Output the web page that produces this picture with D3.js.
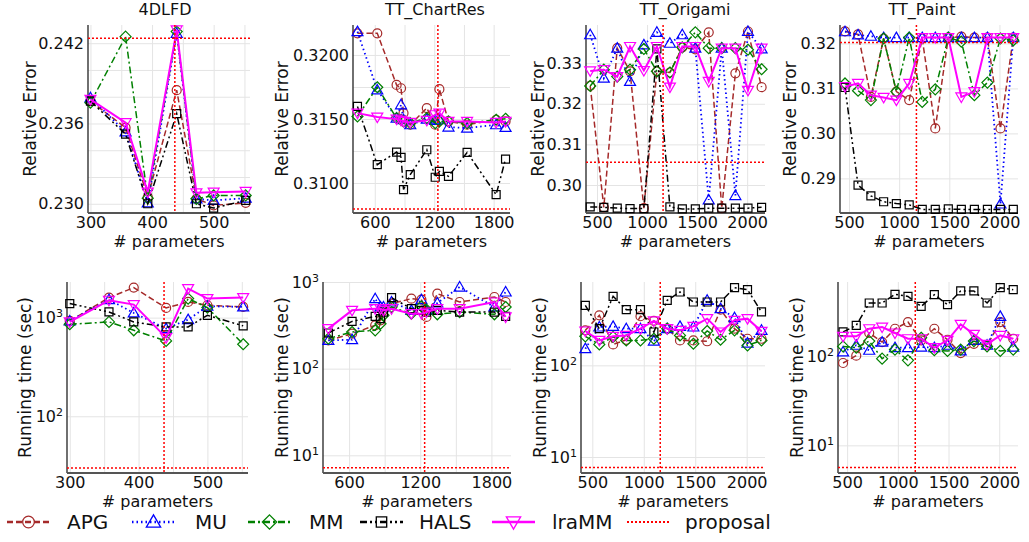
<!DOCTYPE html>
<html>
<head>
<meta charset="utf-8">
<script src="https://cdn.jsdelivr.net/npm/d3@7"></script>
<style>
body { margin: 0; background: #fff; }
text { font-family: "DejaVu Sans", sans-serif; }
</style>
</head>
<body>
<svg id="chart" width="1029" height="542"></svg>
<script>
// Data
var methods = ["APG", "MU", "MM", "HALS", "lraMM"];
var titles = ["4DLFD", "TT_ChartRes", "TT_Origami", "TT_Paint"];

// # parameters per dataset
var params4DLFD = [300, 357, 393, 440, 472, 500, 552];
var paramsChartRes = [425, 625, 820, 865, 890, 958, 1125, 1210, 1252, 1344, 1532, 1825, 1920];
var paramsOrigami = [432, 568, 702, 830, 968, 1098, 1228, 1352, 1482, 1616, 1746, 1882, 2008, 2144];
var paramsPaint = [460, 590, 718, 845, 972, 1100, 1230, 1360, 1490, 1620, 1750, 1880, 2010, 2138];

// relative error, rows: APG, MU, MM, HALS, lraMM
var err4DLFD = [
    [0.23767, 0.23569, 0.23050, 0.23849, 0.23037, 0.22988, 0.23007],
    [0.23792, 0.23537, 0.23007, 0.24274, 0.23037, 0.23025, 0.23042],
    [0.23755, 0.24249, 0.23042, 0.24287, 0.23037, 0.23062, 0.23062],
    [0.23767, 0.23520, 0.23000, 0.23673, 0.23000, 0.22968, 0.23025],
    [0.23780, 0.23606, 0.23087, 0.24299, 0.23082, 0.23087, 0.23092]];
var errChartRes = [
    [0.32169, 0.32169, 0.31766, 0.31740, 0.31546, 0.31455, 0.31585, 0.31455, 0.31733, 0.31481, 0.31455, 0.31494, 0.31481],
    [0.32182, 0.31727, 0.31507, 0.31611, 0.31494, 0.31455, 0.31499, 0.31489, 0.31494, 0.31437, 0.31429, 0.31455, 0.31434],
    [0.31520, 0.31748, 0.31507, 0.31494, 0.31481, 0.31468, 0.31507, 0.31468, 0.31481, 0.31481, 0.31468, 0.31494, 0.31502],
    [0.31598, 0.31143, 0.31242, 0.31200, 0.30949, 0.31065, 0.31260, 0.31045, 0.31091, 0.31052, 0.31239, 0.30910, 0.31187],
    [0.31546, 0.31515, 0.31499, 0.31489, 0.31481, 0.31473, 0.31489, 0.31533, 0.31546, 0.31481, 0.31481, 0.31473, 0.31481]];
var errOrigami = [
    [0.3244, 0.2945, 0.3337, 0.3280, 0.2943, 0.3280, 0.3277, 0.3339, 0.3334, 0.3376, 0.2943, 0.3275, 0.3378, 0.3241],
    [0.3370, 0.3263, 0.3337, 0.3255, 0.3345, 0.3376, 0.3349, 0.3370, 0.3337, 0.2963, 0.3337, 0.2974, 0.3378, 0.3335],
    [0.3244, 0.3284, 0.3267, 0.3284, 0.3335, 0.3280, 0.3277, 0.3339, 0.3376, 0.3337, 0.3337, 0.3337, 0.3333, 0.3285],
    [0.2946, 0.2945, 0.2943, 0.2942, 0.2942, 0.3335, 0.2946, 0.2941, 0.2941, 0.2943, 0.2943, 0.2943, 0.2943, 0.2945],
    [0.3281, 0.3284, 0.3267, 0.3341, 0.3282, 0.3341, 0.3241, 0.3341, 0.3341, 0.3255, 0.3337, 0.3337, 0.3233, 0.3337]];
var errPaint = [
    [0.3227, 0.3220, 0.3081, 0.3211, 0.3093, 0.3074, 0.3211, 0.3011, 0.3213, 0.3215, 0.3213, 0.3213, 0.3011, 0.3213],
    [0.3226, 0.3219, 0.3216, 0.3213, 0.3213, 0.3213, 0.3213, 0.3213, 0.3213, 0.3213, 0.3213, 0.3213, 0.2843, 0.3213],
    [0.3111, 0.3095, 0.3074, 0.3211, 0.3093, 0.3213, 0.3070, 0.3098, 0.3213, 0.3204, 0.3085, 0.3113, 0.3211, 0.3207],
    [0.3102, 0.2885, 0.2861, 0.2848, 0.2844, 0.2841, 0.2831, 0.2831, 0.2832, 0.2831, 0.2831, 0.2831, 0.2831, 0.2831],
    [0.3104, 0.3111, 0.3085, 0.3080, 0.3074, 0.3111, 0.3213, 0.3213, 0.3213, 0.3081, 0.3093, 0.3213, 0.3213, 0.3213]];

// running time (sec), rows: APG, MU, MM, HALS, lraMM
var time4DLFD = [
    [925, 1596, 2014, 1253, 1442, 1334, 1283],
    [925, 1522, 1115, 774, 954, 1303, 1283],
    [856, 904, 744, 580, 1558, 1263, 537],
    [1387, 1141, 904, 804, 804, 1056, 824],
    [904, 1499, 1355, 627, 1967, 1558, 1596]];
var timeChartRes = [
    [212, 253, 316, 361, 471, 562, 642, 625, 395, 733, 588, 671, 588],
    [212, 216, 642, 515, 515, 588, 471, 625, 471, 572, 875, 515, 767],
    [222, 265, 277, 330, 413, 515, 431, 524, 480, 424, 450, 424, 515],
    [258, 351, 402, 378, 450, 659, 492, 471, 450, 471, 450, 450, 402],
    [290, 471, 492, 492, 471, 492, 431, 431, 450, 492, 492, 588, 395]];
var timeOrigami = [
    [241, 351, 169, 190, 343, 305, 251, 187, 187, 183, 405, 251, 195, 195],
    [152, 262, 266, 251, 251, 184, 251, 266, 262, 512, 415, 331, 175, 241],
    [207, 169, 204, 187, 187, 195, 251, 212, 172, 237, 190, 241, 165, 187],
    [451, 251, 566, 405, 405, 231, 512, 631, 491, 491, 491, 703, 668, 382],
    [237, 187, 207, 212, 251, 305, 251, 241, 266, 323, 231, 310, 323, 235]];
var timePaint = [
    [83.5, 101, 181, 143, 202, 240, 150, 202, 152, 108, 137, 132, 240, 156],
    [111, 132, 116, 143, 124, 124, 126, 124, 132, 114, 150, 132, 278, 126],
    [128, 124, 147, 93.4, 118, 89.4, 160, 116, 114, 118, 147, 128, 114, 118],
    [186, 220, 392, 392, 490, 465, 359, 486, 376, 535, 535, 392, 582, 553],
    [166, 166, 202, 211, 181, 156, 156, 124, 150, 226, 175, 135, 170, 156]];

// proposal: [# parameters, relative error, running time]
var prop4DLFD = [437, 0.24237, 29.9];
var propChartRes = [1237, 0.30797, 7.2];
var propOrigami = [1160, 0.3056, 7.66];
var propPaint = [1172, 0.3202, 5.63];

// tick labels
var xTickVals = [[300, 400, 500], [600, 1200, 1800], [500, 1000, 1500, 2000], [500, 1000, 1500, 2000]];
var xGridVals = [[300, 350, 400, 450, 500, 550], [600, 900, 1200, 1500, 1800], [500, 1000, 1500, 2000], [500, 1000, 1500, 2000]];
var errTickVals = [[0.230, 0.236, 0.242], [0.3100, 0.3150, 0.3200], [0.30, 0.31, 0.32, 0.33], [0.29, 0.30, 0.31, 0.32]];
var errGridVals = [[0.230, 0.232, 0.234, 0.236, 0.238, 0.240, 0.242], [0.3100, 0.3125, 0.3150, 0.3175, 0.3200], [0.30, 0.31, 0.32, 0.33], [0.29, 0.30, 0.31, 0.32]];
var errFormats = [".3f", ".4f", ".2f", ".2f"];
var timeTickVals = [[100, 1000], [10, 100, 1000], [10, 100], [10, 100]];

var params = [params4DLFD, paramsChartRes, paramsOrigami, paramsPaint];
var errs = [err4DLFD, errChartRes, errOrigami, errPaint];
var times = [time4DLFD, timeChartRes, timeOrigami, timePaint];
var props = [prop4DLFD, propChartRes, propOrigami, propPaint];

// Layout
var styles = {
    APG: {c: "#a52a2a", dash: "6,3", w: 1.5, m: "circle"},
    MU: {c: "#0000ff", dash: "1.5,3", w: 1.8, m: "triangle"},
    MM: {c: "#008000", dash: "7,3,2,3", w: 1.5, m: "diamond"},
    HALS: {c: "#000000", dash: "7,3,2,3,2,3", w: 1.5, m: "square"},
    lraMM: {c: "#ff00ff", dash: null, w: 2, m: "tridown"}
};
var topBoxes = [{l: 88, r: 250}, {l: 353, r: 510}, {l: 586, r: 765}, {l: 840, r: 1018}];
var botBoxes = [{l: 67, r: 248}, {l: 323, r: 511}, {l: 581, r: 765}, {l: 838, r: 1018}];
var xDomains = [[296, 559], [380, 1965], [390, 2178], [410, 2185]];
var errDomains = [[0.22931, 0.24336], [0.30766, 0.32234], [0.2931, 0.3394], [0.2823, 0.3241]];
var timeDomains = [[26.6, 2296], [6.25, 1000], [6.69, 811], [4.9, 674]];
var topLabelX = [30, 282, 538, 790];
var botLabelX = [25, 282, 540, 797];
var titleX = [165, 435, 685, 922];

var svg = d3.select("#chart");
var font = "DejaVu Sans";

function markerPath(type, s) {
    var p = d3.path();
    if (type === "triangle") {
        p.moveTo(0, -5.5 * s); p.lineTo(5.5 * s, 4 * s); p.lineTo(-5.5 * s, 4 * s); p.closePath();
    } else if (type === "tridown") {
        p.moveTo(0, 5.5 * s); p.lineTo(5.5 * s, -4 * s); p.lineTo(-5.5 * s, -4 * s); p.closePath();
    } else if (type === "diamond") {
        p.moveTo(0, -5.5 * s); p.lineTo(5.5 * s, 0); p.lineTo(0, 5.5 * s); p.lineTo(-5.5 * s, 0); p.closePath();
    } else if (type === "square") {
        p.rect(-4 * s, -4 * s, 8 * s, 8 * s);
    } else {
        p.arc(0, 0, 4.5 * s, 0, 2 * Math.PI);
    }
    return p.toString();
}

function drawPanel(o) {
    var g = svg.append("g");
    var x = d3.scaleLinear().domain(o.xDom).range([o.l, o.r]);
    var y = (o.log ? d3.scaleLog() : d3.scaleLinear()).domain(o.yDom).range([o.b, o.t]);

    // grid
    var gx = g.append("g").attr("transform", "translate(0," + o.b + ")")
        .call(d3.axisBottom(x).tickValues(o.xGrid).tickSize(-(o.b - o.t)).tickFormat(""));
    var gy = g.append("g").attr("transform", "translate(" + o.l + ",0)")
        .call(d3.axisLeft(y).tickValues(o.yGrid).tickSize(-(o.r - o.l)).tickFormat(""));
    [gx, gy].forEach(function(a) {
        a.select(".domain").remove();
        a.selectAll("line").attr("stroke", "#e4e4e4").attr("stroke-width", 1);
    });

    // tick labels
    var lx = g.append("g").attr("transform", "translate(0," + o.b + ")")
        .call(d3.axisBottom(x).tickValues(o.xTicks).tickSize(0).tickPadding(4).tickFormat(d3.format("d")));
    var ly = g.append("g").attr("transform", "translate(" + o.l + ",0)")
        .call(d3.axisLeft(y).tickValues(o.yTicks).tickSize(0).tickPadding(4)
            .tickFormat(o.log ? function(d) { return "10"; } : d3.format(o.yFmt)));
    [lx, ly].forEach(function(a) {
        a.select(".domain").remove();
        a.attr("font-size", 16).attr("font-family", font);
        a.selectAll("text").attr("fill", "#111");
    });
    if (o.log) {
        ly.selectAll(".tick text").append("tspan")
            .attr("dy", "-0.55em").attr("font-size", 11)
            .text(function(d) { return Math.round(Math.log10(d)); });
    }

    // frame
    g.append("line").attr("x1", o.l).attr("x2", o.l).attr("y1", o.t).attr("y2", o.b)
        .attr("stroke", "#222").attr("stroke-width", 1.3);
    g.append("line").attr("x1", o.l).attr("x2", o.r).attr("y1", o.b).attr("y2", o.b)
        .attr("stroke", "#555").attr("stroke-width", 1.8);

    // series
    var line = d3.line().x(function(d) { return x(d[0]); }).y(function(d) { return y(d[1]); });
    methods.forEach(function(m, i) {
        var st = styles[m];
        var pts = o.xs.map(function(v, j) { return [v, o.ys[i][j]]; });
        g.append("path").attr("d", line(pts)).attr("fill", "none")
            .attr("stroke", st.c).attr("stroke-width", st.w)
            .attr("stroke-dasharray", st.dash);
        g.selectAll(null).data(pts).enter().append("path")
            .attr("d", markerPath(st.m, 1))
            .attr("transform", function(d) { return "translate(" + x(d[0]) + "," + y(d[1]) + ")"; })
            .attr("fill", "none").attr("stroke", st.c).attr("stroke-width", 1.2);
    });

    // proposal crosshair
    g.append("line").attr("x1", x(o.prop[0])).attr("x2", x(o.prop[0])).attr("y1", o.t).attr("y2", o.b)
        .attr("stroke", "#ff0000").attr("stroke-width", 1.5).attr("stroke-dasharray", "2,2");
    g.append("line").attr("x1", o.l).attr("x2", o.r).attr("y1", y(o.prop[1])).attr("y2", y(o.prop[1]))
        .attr("stroke", "#ff0000").attr("stroke-width", 1.5).attr("stroke-dasharray", "2,2");

    // labels
    g.append("text").attr("x", (o.l + o.r) / 2).attr("y", o.b + 34)
        .attr("text-anchor", "middle").attr("font-size", 16).attr("fill", "#111").text("# parameters");
    g.append("text").attr("transform", "translate(" + o.labelX + "," + (o.t + o.b) / 2 + ") rotate(-90)")
        .attr("text-anchor", "middle").attr("dy", "0.35em").attr("font-size", 17).attr("fill", "#111")
        .text(o.ylabel);
    if (o.title) {
        g.append("text").attr("x", o.titleX).attr("y", 15).attr("text-anchor", "middle")
            .attr("font-size", 16).attr("fill", "#111").text(o.title);
    }
}

for (var k = 0; k < 4; k++) {
    drawPanel({
        l: topBoxes[k].l, r: topBoxes[k].r, t: 25, b: 213,
        xDom: xDomains[k], yDom: errDomains[k], log: false,
        xs: params[k], ys: errs[k], prop: [props[k][0], props[k][1]],
        xTicks: xTickVals[k], xGrid: xGridVals[k], yTicks: errTickVals[k], yGrid: errGridVals[k],
        yFmt: errFormats[k], ylabel: "Relative Error", labelX: topLabelX[k],
        title: titles[k], titleX: titleX[k]
    });
    drawPanel({
        l: botBoxes[k].l, r: botBoxes[k].r, t: 282, b: 473,
        xDom: xDomains[k], yDom: timeDomains[k], log: true,
        xs: params[k], ys: times[k], prop: [props[k][0], props[k][2]],
        xTicks: xTickVals[k], xGrid: xGridVals[k], yTicks: timeTickVals[k], yGrid: timeTickVals[k],
        ylabel: "Running time (sec)", labelX: botLabelX[k]
    });
}

// legend
var legendItems = methods.concat(["proposal"]);
var legX = [7, 132, 248, 360, 492, 627];
var legTextX = [67, 195, 309, 419, 552, 685];
var leg = svg.append("g");
legendItems.forEach(function(m, i) {
    var st = styles[m] || {c: "#ff0000", dash: "2,2", w: 2, m: null};
    var x0 = legX[i], x1 = legX[i] + 43, cy = 522;
    leg.append("line").attr("x1", x0).attr("x2", x1).attr("y1", cy).attr("y2", cy)
        .attr("stroke", st.c).attr("stroke-width", m === "proposal" ? 2 : 2.5)
        .attr("stroke-dasharray", m === "lraMM" ? null : (m === "proposal" ? "2,2" : st.dash));
    if (st.m) {
        leg.append("path").attr("d", markerPath(st.m, 1.3))
            .attr("transform", "translate(" + (x0 + x1) / 2 + "," + cy + ")")
            .attr("fill", "none").attr("stroke", st.c).attr("stroke-width", 1.3);
    }
    leg.append("text").attr("x", legTextX[i]).attr("y", cy).attr("dy", "0.35em")
        .attr("font-size", 20).attr("fill", "#111").text(m);
});
</script>
</body>
</html>
